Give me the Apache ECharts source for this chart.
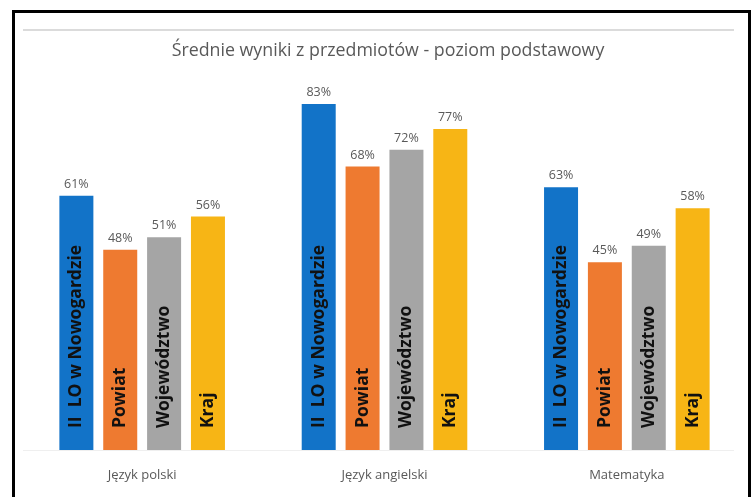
<!DOCTYPE html>
<html>
<head>
<meta charset="utf-8">
<script src="https://cdn.jsdelivr.net/npm/echarts@6/dist/echarts.min.js"></script>
<style>
  html, body { margin: 0; padding: 0; background: #fff; }
  #chart { position: absolute; left: 0; top: 0; width: 751px; height: 497px; }
  #frame { position: absolute; left: 12px; top: 10px; width: 733px; height: 500px;
           border: 3px solid #000; border-bottom: none; pointer-events: none; }
</style>
</head>
<body>
<div id="chart"></div>
<div id="frame"></div>
<script>
const title = 'Średnie wyniki z przedmiotów - poziom podstawowy';
const categories = ['Język polski', 'Język angielski', 'Matematyka'];
const seriesNames = ['II  LO w Nowogardzie', 'Powiat', 'Województwo', 'Kraj'];
const liceum = [61, 83, 63];
const powiat = [48, 68, 45];
const wojewodztwo = [51, 72, 49];
const kraj = [56, 77, 58];
const colors = ['#1273C8', '#EE7A30', '#A5A5A5', '#F7B515'];

const seriesData = [liceum, powiat, wojewodztwo, kraj];
const font = '"Open Sans", sans-serif';

const chart = echarts.init(document.getElementById('chart'), null, { renderer: 'canvas' });
chart.setOption({
  animation: false,
  backgroundColor: '#fff',
  title: {
    text: title, left: 383, top: 37, textAlign: 'center',
    textStyle: { fontFamily: font, fontSize: 17.8, fontWeight: 'normal', color: '#595959' }
  },
  graphic: [
    { type: 'line', shape: { x1: 23, y1: 30, x2: 734, y2: 30 }, style: { stroke: '#cfcfcf', lineWidth: 1.5 } },
    { type: 'line', shape: { x1: 23, y1: 450.5, x2: 734, y2: 450.5 }, style: { stroke: '#efefef', lineWidth: 1 } }
  ],
  grid: { left: 21, top: 33, width: 727, height: 417 },
  xAxis: [{
    type: 'category', data: categories,
    axisLine: { show: false }, axisTick: { show: false },
    axisLabel: { fontFamily: font, fontSize: 13, color: '#595959', margin: 19 }
  }, {
    type: 'category', data: categories, show: false, position: 'bottom'
  }],
  yAxis: { type: 'value', min: 0, max: 100, show: false, splitLine: { show: false } },
  series: seriesNames.map((name, i) => ({
    type: 'bar', name: name, data: seriesData[i], xAxisIndex: 0,
    barWidth: 34, barGap: '29%',
    itemStyle: { color: colors[i] },
    label: {
      show: true, position: 'top', distance: 5, formatter: '{c}%',
      fontFamily: font, fontSize: 12.5, color: '#595959'
    }
  })).concat(seriesNames.map((name, i) => ({
    type: 'bar', name: name + '_inner', data: seriesData[i], xAxisIndex: 1,
    barWidth: 34, barGap: '29%',
    itemStyle: { color: 'rgba(0,0,0,0)' },
    silent: true,
    label: {
      show: true, position: 'insideBottom', distance: 22, rotate: 90,
      align: 'left', verticalAlign: 'middle', formatter: name,
      fontFamily: font, fontSize: 17.5, fontWeight: 'bold', color: '#111'
    }
  })))
});
</script>
</body>
</html>
